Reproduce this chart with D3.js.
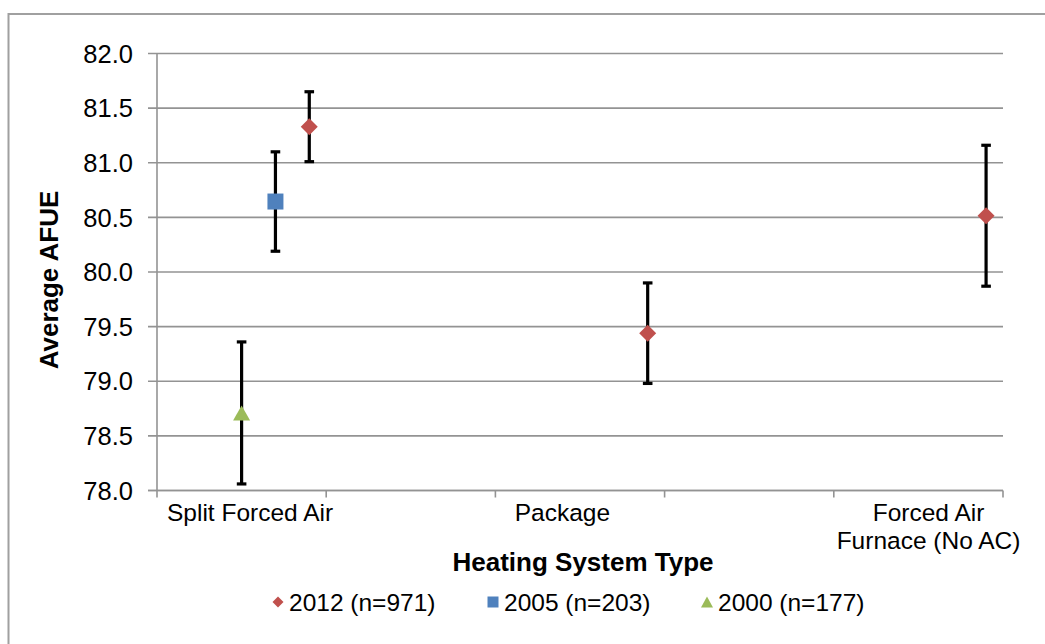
<!DOCTYPE html>
<html>
<head>
<meta charset="utf-8">
<script src="https://cdn.jsdelivr.net/npm/d3@7"></script>
<style>
  html, body { margin: 0; padding: 0; background: #fff; }
  svg { display: block; font-family: "Liberation Sans", Arial, sans-serif; }
</style>
</head>
<body>
<svg id="chart" width="1045" height="644"></svg>
<script>
// ---- data ----
const yTicks = [78.0, 78.5, 79.0, 79.5, 80.0, 80.5, 81.0, 81.5, 82.0];
const xTicks = [0, 0.5, 1, 1.5, 2, 2.5];

const categories = [["Split Forced Air"], ["Package"], ["Forced Air", "Furnace (No AC)"]];
const categoryAnchors = [0.275, 1.198, 2.28]; // text boxes, in x units

const seriesNames = ["2012 (n=971)", "2005 (n=203)", "2000 (n=177)"];
const x2012 = [0.45, 1.45, 2.45];
const y2012 = [81.33, 79.44, 80.515];
const e2012 = [0.32, 0.46, 0.645];
const x2005 = [0.35];
const y2005 = [80.645];
const e2005 = [0.455];
const x2000 = [0.25];
const y2000 = [78.71];
const e2000 = [0.65];

// ---- layout ----
const svg = d3.select("#chart");
const L = 157, R = 1003, T = 53.5, B = 490.5;
const x = d3.scaleLinear().domain([0, 2.5]).range([L, R]);
const y = d3.scaleLinear().domain([78, 82]).range([B, T]);
const gridColor = "#939393";

// outer chart border (only top/left visible in the frame)
svg.append("rect")
  .attr("x", 8.5).attr("y", 14).attr("width", 1100).attr("height", 700)
  .attr("fill", "none").attr("stroke", "#a0a0a0").attr("stroke-width", 2);

// horizontal gridlines + left tick marks
const gy = svg.append("g");
gy.selectAll("line").data(yTicks).join("line")
  .attr("x1", L - 9).attr("x2", R)
  .attr("y1", d => y(d)).attr("y2", d => y(d))
  .attr("stroke", gridColor).attr("stroke-width", 1.6);
gy.selectAll("text").data(yTicks).join("text")
  .attr("x", 133).attr("y", d => y(d)).attr("dy", "0.36em")
  .attr("text-anchor", "end").attr("font-size", 25.5).attr("fill", "#000")
  .text(d => d.toFixed(1));

// axes lines
svg.append("line").attr("x1", L).attr("x2", L).attr("y1", T).attr("y2", B)
  .attr("stroke", gridColor).attr("stroke-width", 1.6);
svg.append("line").attr("x1", L - 9).attr("x2", R).attr("y1", B).attr("y2", B)
  .attr("stroke", gridColor).attr("stroke-width", 1.6);
svg.append("g").selectAll("line").data(xTicks).join("line")
  .attr("x1", d => x(d)).attr("x2", d => x(d))
  .attr("y1", B).attr("y2", B + 7)
  .attr("stroke", gridColor).attr("stroke-width", 1.6);

// category text boxes
const cat = svg.append("g").attr("font-size", 24.5).attr("text-anchor", "middle");
categories.forEach((lines, i) => {
  const t = cat.append("text").attr("x", x(categoryAnchors[i])).attr("y", 521);
  lines.forEach((s, j) => t.append("tspan")
    .attr("x", x(categoryAnchors[i])).attr("dy", j ? 28 : 0).text(s));
});

// axis titles
svg.append("text").attr("x", 583).attr("y", 571)
  .attr("text-anchor", "middle").attr("font-size", 26).attr("font-weight", "bold")
  .text("Heating System Type");
svg.append("text")
  .attr("transform", "translate(57.5,280) rotate(-90)")
  .attr("text-anchor", "middle").attr("font-size", 26).attr("font-weight", "bold")
  .text("Average AFUE");

// marker shapes
function diamond(r) { return `M0,${-r}L${r},0L0,${r}L${-r},0Z`; }
function square(r) { return `M${-r},${-r}H${r}V${r}H${-r}Z`; }
function triangle(w, h) { return `M0,${-h / 2}L${w / 2},${h / 2}L${-w / 2},${h / 2}Z`; }

const series = [
  { xs: x2012, ys: y2012, es: e2012, color: "#C0504D", shape: diamond(8.5), key: diamond(5.5) },
  { xs: x2005, ys: y2005, es: e2005, color: "#4F81BD", shape: square(8), key: square(5.5) },
  { xs: x2000, ys: y2000, es: e2000, color: "#9BBB59", shape: triangle(17, 15), key: triangle(12, 11) }
];

const plot = svg.append("g");
series.forEach(s => {
  const pts = s.xs.map((v, i) => ({ x: v, y: s.ys[i], e: s.es[i] }));
  const g = plot.append("g");
  const eb = g.selectAll("g.eb").data(pts).join("g").attr("class", "eb")
    .attr("stroke", "#000").attr("stroke-width", 3.2);
  eb.append("line")
    .attr("x1", d => x(d.x)).attr("x2", d => x(d.x))
    .attr("y1", d => y(d.y + d.e)).attr("y2", d => y(d.y - d.e));
  eb.append("line")
    .attr("x1", d => x(d.x) - 4.8).attr("x2", d => x(d.x) + 4.8)
    .attr("y1", d => y(d.y + d.e)).attr("y2", d => y(d.y + d.e));
  eb.append("line")
    .attr("x1", d => x(d.x) - 4.8).attr("x2", d => x(d.x) + 4.8)
    .attr("y1", d => y(d.y - d.e)).attr("y2", d => y(d.y - d.e));
  g.selectAll("path").data(pts).join("path")
    .attr("d", s.shape).attr("fill", s.color)
    .attr("transform", d => `translate(${x(d.x)},${y(d.y)})`);
});

// legend
const lg = svg.append("g").attr("font-size", 24.5);
const keyX = [278, 493, 707];
series.forEach((s, i) => {
  lg.append("path").attr("d", s.key).attr("fill", s.color)
    .attr("transform", `translate(${keyX[i]},602)`);
  lg.append("text").attr("x", keyX[i] + 11).attr("y", 602).attr("dy", "0.36em")
    .text(seriesNames[i]);
});
</script>
</body>
</html>
